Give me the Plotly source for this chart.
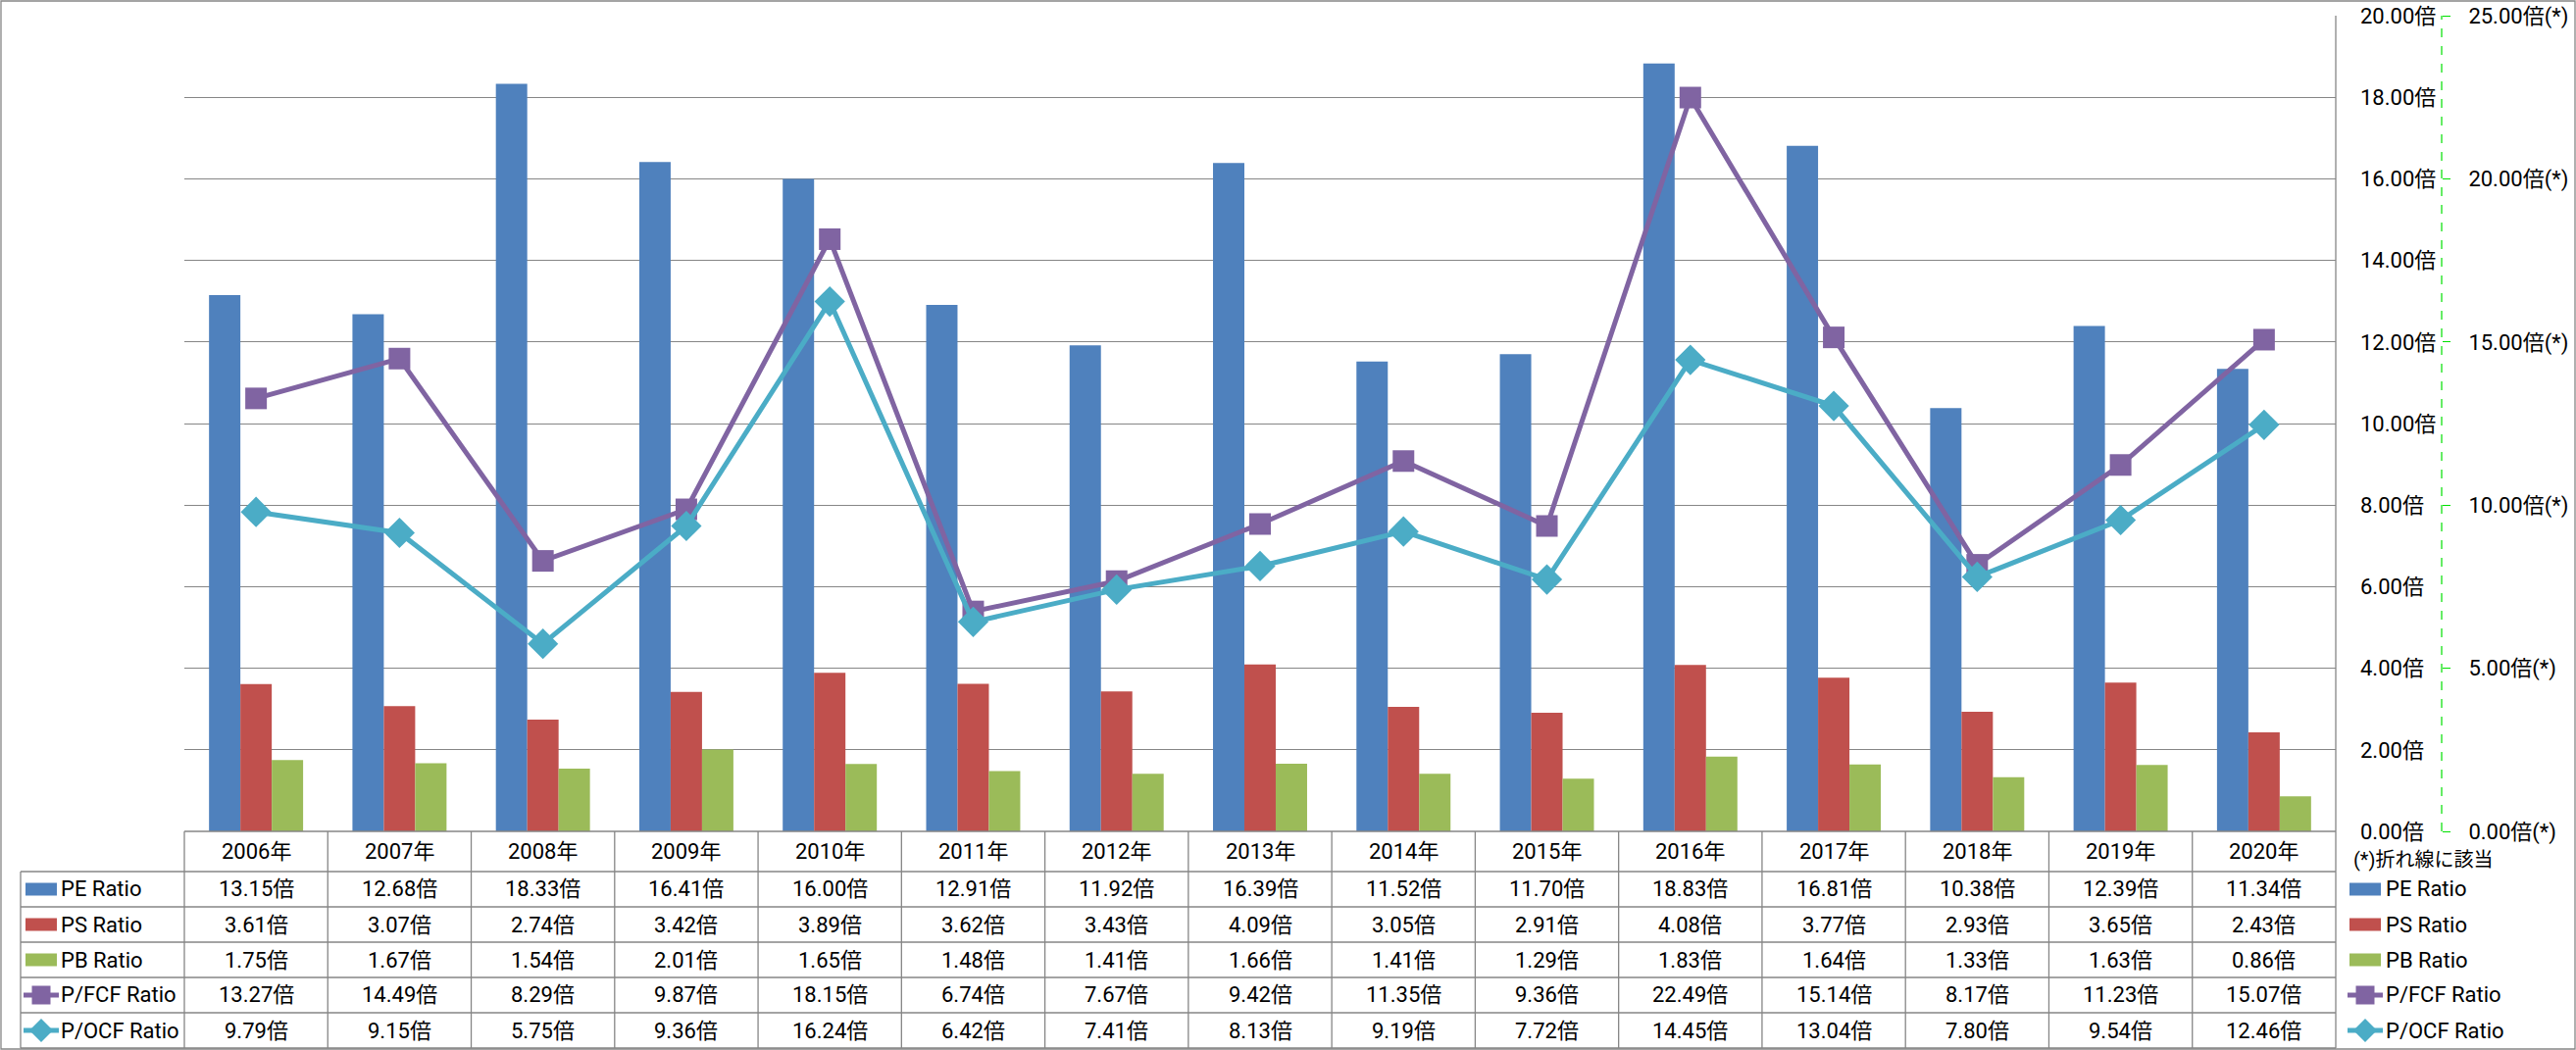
import plotly.graph_objects as go

# ---------------- data ----------------
years = ["2006年", "2007年", "2008年", "2009年", "2010年", "2011年", "2012年", "2013年",
         "2014年", "2015年", "2016年", "2017年", "2018年", "2019年", "2020年"]
pe_ratio = [13.15, 12.68, 18.33, 16.41, 16.00, 12.91, 11.92, 16.39, 11.52, 11.70, 18.83, 16.81, 10.38, 12.39, 11.34]
ps_ratio = [3.61, 3.07, 2.74, 3.42, 3.89, 3.62, 3.43, 4.09, 3.05, 2.91, 4.08, 3.77, 2.93, 3.65, 2.43]
pb_ratio = [1.75, 1.67, 1.54, 2.01, 1.65, 1.48, 1.41, 1.66, 1.41, 1.29, 1.83, 1.64, 1.33, 1.63, 0.86]
pfcf_ratio = [13.27, 14.49, 8.29, 9.87, 18.15, 6.74, 7.67, 9.42, 11.35, 9.36, 22.49, 15.14, 8.17, 11.23, 15.07]
pocf_ratio = [9.79, 9.15, 5.75, 9.36, 16.24, 6.42, 7.41, 8.13, 9.19, 7.72, 14.45, 13.04, 7.80, 9.54, 12.46]

series_names = ["PE Ratio", "PS Ratio", "PB Ratio", "P/FCF Ratio", "P/OCF Ratio"]
primary_ticks = [0, 2, 4, 6, 8, 10, 12, 14, 16, 18, 20]
secondary_ticks = [0, 5, 10, 15, 20, 25]
note_text = "(*)折れ線に該当"

# ---------------- style ----------------
C_BLUE, C_RED, C_GREEN = "#4F81BD", "#C0504D", "#9BBB59"
C_PURPLE, C_CYAN = "#8064A2", "#4BACC6"
GRID = "#868686"
FONT = "Roboto, 'Noto Sans CJK JP', sans-serif"
FS = 22

W, H = 2627, 1071
L, R, T, B = 188, 0, 16, 223
PW = W - L - R          # paper width in px
PH = H - T - B          # paper height in px
PLOT_RIGHT = 2382


def px(x):
    return (x - L) / PW


def py(y):
    return (H - B - y) / PH


xdom_end = px(PLOT_RIGHT)

fig = go.Figure()
bar_specs = [(series_names[0], pe_ratio, C_BLUE), (series_names[1], ps_ratio, C_RED),
             (series_names[2], pb_ratio, C_GREEN)]
for name, vals, col in bar_specs:
    fig.add_trace(go.Bar(x=years, y=vals, name=name, marker=dict(color=col, line_width=0),
                         yaxis="y", showlegend=False))

fig.add_trace(go.Scatter(x=years, y=pfcf_ratio, name=series_names[3], yaxis="y2", mode="lines+markers",
                         line=dict(color=C_PURPLE, width=5),
                         marker=dict(symbol="square", size=22, color=C_PURPLE), showlegend=False))
fig.add_trace(go.Scatter(x=years, y=pocf_ratio, name=series_names[4], yaxis="y2", mode="lines+markers",
                         line=dict(color=C_CYAN, width=5),
                         marker=dict(symbol="diamond", size=24, color=C_CYAN), showlegend=False))

shapes = []
annotations = []

# outer chart border
shapes.append(dict(type="rect", xref="paper", yref="paper", x0=px(1), x1=px(W - 1),
                   y0=py(1), y1=py(H - 1), line=dict(color=GRID, width=1.3), layer="below"))

# secondary axis dashed green line
shapes.append(dict(type="line", xref="paper", yref="paper", x0=px(2490), x1=px(2490), y0=0, y1=1,
                   line=dict(color="#00E000", width=1.2, dash="dash")))

# ---- data table ----
header_top, header_bot = 848, 889
row_h = 36
row_tops = [header_bot + i * row_h for i in range(6)]  # 889 ... 1069
tbl_left = 21

# horizontal lines
shapes.append(dict(type="line", xref="paper", yref="paper", x0=0, x1=xdom_end,
                   y0=py(header_top), y1=py(header_top), line=dict(color=GRID, width=1.3)))
for yt in row_tops:
    shapes.append(dict(type="line", xref="paper", yref="paper", x0=px(tbl_left), x1=xdom_end,
                       y0=py(yt), y1=py(yt), line=dict(color=GRID, width=1.3)))
# vertical lines
shapes.append(dict(type="line", xref="paper", yref="paper", x0=px(tbl_left), x1=px(tbl_left),
                   y0=py(header_bot), y1=py(row_tops[-1]), line=dict(color=GRID, width=1.3)))
shapes.append(dict(type="line", xref="paper", yref="paper", x0=0, x1=0,
                   y0=py(header_top), y1=py(row_tops[-1]), line=dict(color=GRID, width=1.3)))
for i in range(1, len(years)):
    shapes.append(dict(type="line", xref="x", yref="paper", x0=i - 0.5, x1=i - 0.5,
                       y0=py(header_top), y1=py(row_tops[-1]), line=dict(color=GRID, width=1.3)))
# plot area right border (full height)
shapes.append(dict(type="line", xref="paper", yref="paper", x0=xdom_end, x1=xdom_end,
                   y0=1, y1=py(row_tops[-1]), line=dict(color=GRID, width=1.3)))

# header text
for yr in years:
    annotations.append(dict(x=yr, xref="x", y=py((header_top + header_bot) / 2), yref="paper",
                            text=yr, showarrow=False, xanchor="center", yanchor="middle",
                            font=dict(family=FONT, size=FS, color="black")))

all_vals = [pe_ratio, ps_ratio, pb_ratio, pfcf_ratio, pocf_ratio]
row_centers = [row_tops[i] + row_h / 2 for i in range(5)]
for r, vals in enumerate(all_vals):
    for yr, v in zip(years, vals):
        annotations.append(dict(x=yr, xref="x", y=py(row_centers[r]), yref="paper",
                                text=f"{v:.2f}倍", showarrow=False, xanchor="center", yanchor="middle",
                                font=dict(family=FONT, size=FS, color="black")))

colors = [C_BLUE, C_RED, C_GREEN, C_PURPLE, C_CYAN]


def add_key(r, x_left, x_right, text_x):
    cy = row_centers[r]
    col = colors[r]
    if r < 3:
        shapes.append(dict(type="rect", xref="paper", yref="paper", x0=px(x_left), x1=px(x_right),
                           y0=py(cy + 6.5), y1=py(cy - 6.5), line=dict(width=0), fillcolor=col))
    else:
        shapes.append(dict(type="line", xref="paper", yref="paper", x0=px(x_left - 2), x1=px(x_right + 2),
                           y0=py(cy), y1=py(cy), line=dict(color=col, width=5)))
        cx = (x_left + x_right) / 2
        if r == 3:
            s = 9.5
            shapes.append(dict(type="rect", xref="paper", yref="paper", x0=px(cx - s), x1=px(cx + s),
                               y0=py(cy + s), y1=py(cy - s), line=dict(width=0), fillcolor=col))
        else:
            s = 12
            path = (f"M {px(cx - s)},{py(cy)} L {px(cx)},{py(cy - s)} L {px(cx + s)},{py(cy)} "
                    f"L {px(cx)},{py(cy + s)} Z")
            shapes.append(dict(type="path", xref="paper", yref="paper", path=path,
                               line=dict(width=0), fillcolor=col))
    annotations.append(dict(x=px(text_x), xref="paper", y=py(cy), yref="paper", text=series_names[r],
                            showarrow=False, xanchor="left", yanchor="middle",
                            font=dict(family=FONT, size=FS, color="black")))


for r in range(5):
    add_key(r, 26, 58, 60)      # table row labels
    add_key(r, 2396, 2428, 2431)  # right legend

annotations.append(dict(x=px(2398), xref="paper", y=py(877), yref="paper", text=note_text,
                        showarrow=False, xanchor="left", yanchor="middle",
                        font=dict(family=FONT, size=20, color="black")))

fig.update_layout(
    width=W, height=H, autosize=False,
    margin=dict(l=L, r=R, t=T, b=B, pad=0),
    paper_bgcolor="white", plot_bgcolor="white",
    barmode="group", bargap=0.344, bargroupgap=0,
    showlegend=False,
    xaxis=dict(domain=[0, xdom_end], type="category", range=[-0.5, len(years) - 0.5],
               showticklabels=False, showgrid=False, zeroline=False, showline=False, ticks=""),
    yaxis=dict(range=[0, 20], tickvals=primary_ticks, ticktext=[f"{v:.2f}倍" for v in primary_ticks],
               side="right", anchor="x", showgrid=True, gridcolor=GRID, gridwidth=1.3,
               zeroline=False, showline=False, ticks="", ticklabelstandoff=24,
               tickfont=dict(family=FONT, size=FS, color="black")),
    yaxis2=dict(range=[0, 25], tickvals=secondary_ticks,
                ticktext=[f"{v:.2f}倍(*)" for v in secondary_ticks],
                overlaying="y", side="right", anchor="free", position=px(2490),
                showgrid=False, zeroline=False, showline=False,
                ticks="outside", ticklen=8, tickcolor="#00E000", tickwidth=1,
                ticklabelstandoff=14,
                tickfont=dict(family=FONT, size=FS, color="black")),
    shapes=shapes,
    annotations=annotations,
)

fig.write_html("out.html", config={"displayModeBar": False},
               post_script="document.body.style.margin='0';document.body.style.overflow='hidden';")
